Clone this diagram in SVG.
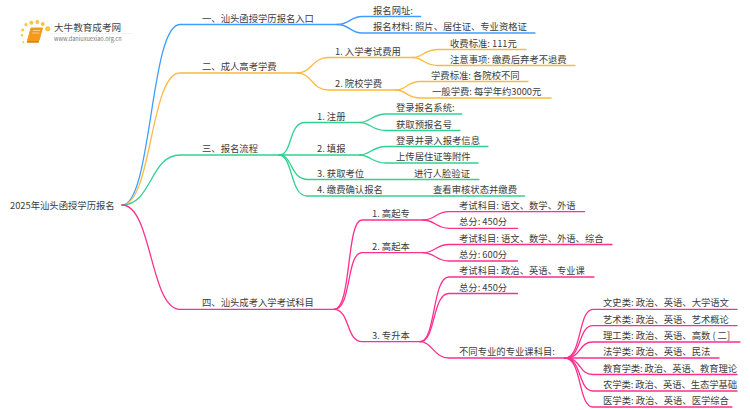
<svg xmlns="http://www.w3.org/2000/svg" width="750" height="410" viewBox="0 0 750 410">
<style>
text{font-family:"Noto Sans CJK SC","Noto Sans",sans-serif;font-size:9.33px;fill:#3c3c3c}
.c path{fill:none;stroke-width:1.3;stroke-linecap:round}
.b path{stroke:#3d9eff}.o path{stroke:#ffb940}.g path{stroke:#33d191}.p path{stroke:#ff2f8e}
</style>
<rect width="750" height="410" fill="#fff"/>
<g id="connectors" class="c">
<g class="b">
<path d="M122,205C152,205 150,24.5 180,24.5H337"/>
<path d="M337,24.5C350,24.5 350,16.5 362,16.5H420.7"/>
<path d="M337,24.5C350,24.5 350,33 362,33H535"/>
</g>
<g class="o">
<path d="M122,205C152,205 150,73 180,73H297"/>
<path d="M297,73C312,73 312,57.5 328,57.5H413"/>
<path d="M297,73C312,73 312,90 328,90H396"/>
<path d="M413,57.5C423,57.5 424,49.5 438,49.5H526"/>
<path d="M413,57.5C423,57.5 424,65.5 438,65.5H575"/>
<path d="M396,90C406,90 407,81.5 420,81.5H528"/>
<path d="M396,90C406,90 407,98 420,98H551"/>
</g>
<g class="g">
<path d="M122,205C152,205 150,155 180,155H279"/>
<path d="M279,155C293,155 288,122.5 305,122.5H360"/>
<path d="M279,155H360"/>
<path d="M279,155C293,155 290,179.5 308,179.5H479"/>
<path d="M279,155C293,155 290,196 307,196H524.6"/>
<path d="M360,122.5C370,122.5 372,114 386,114H461.7"/>
<path d="M360,122.5C370,122.5 372,130.5 386,130.5H460"/>
<path d="M360,155C370,155 372,146.5 386,146.5H488"/>
<path d="M360,155C370,155 372,163 386,163H478"/>
</g>
<g class="p">
<path d="M122,205C152,205 150,309.3 180,309.3H334"/>
<path d="M334,309.3C352,309.3 346,220 362,220H423"/>
<path d="M334,309.3C352,309.3 346,252.7 362,252.7H423"/>
<path d="M334,309.3C350,309.3 346,341.7 362,341.7H420"/>
<path d="M423,220C435,220 436,211.7 449,211.7H584.5"/>
<path d="M423,220C435,220 436,228.3 449,228.3H517.5"/>
<path d="M423,252.7C435,252.7 436,244.5 449,244.5H612"/>
<path d="M423,252.7C435,252.7 436,261 449,261H517.5"/>
<path d="M420,341.7C436,341.7 432,277 449,277H594"/>
<path d="M420,341.7C436,341.7 432,293.5 449,293.5H517.5"/>
<path d="M420,341.7C432,341.7 434,358 449,358H565"/>
<path d="M565,358C582,358 578,309.4 593,309.4H737"/>
<path d="M565,358C582,358 578,325.7 593,325.7H737"/>
<path d="M565,358C582,358 578,342 593,342H740"/>
<path d="M565,358H719"/>
<path d="M565,358C582,358 578,374.5 593,374.5H737"/>
<path d="M565,358C582,358 578,391 593,391H737"/>
<path d="M565,358C582,358 578,407 593,407H732"/>
</g>
</g>
<g id="logo">
<g fill="#f9c440">
<circle cx="47.7" cy="28.7" r="2.5"/><circle cx="42.7" cy="24" r="2"/><circle cx="37.3" cy="22" r="2"/><circle cx="31.3" cy="22.7" r="2"/><circle cx="26" cy="24.7" r="1.6"/><circle cx="22.7" cy="30" r="1.4"/><circle cx="22" cy="35.3" r="1.2"/><circle cx="23.3" cy="42.3" r="1"/>
</g>
<path d="M31,28H42.5L39,40.5H27.5Z" fill="#f59a1d" stroke="#f59a1d" stroke-linejoin="round"/>
<path d="M27,41H39L38.5,42.7H28Q26,42.7 27,41Z" fill="#e07f12"/>
<path d="M33,30.5H40M32.3,33H39.3" stroke="#ffe3b0" stroke-width=".7" fill="none"/>
<text x="54" y="31" style="font-size:9.6px;fill:#444">大牛教育成考网</text>
<path d="M50,33.5H133" stroke="#eee" stroke-width=".7"/>
<text x="54" y="41" style="font-size:5.6px;fill:#777">www.daniuxuexiao.org.cn</text>
</g>
<g id="root"><text x="10" y="208.5">2025年汕头函授学历报名</text></g>
<g id="n1"><text x="202" y="21.5">一、汕头函授学历报名入口</text></g>
<g id="n1-1"><text x="373" y="13.5">报名网址:</text></g>
<g id="n1-2"><text x="373" y="30">报名材料: 照片、居住证、专业资格证</text></g>
<g id="n2"><text x="202" y="70">二、成人高考学费</text></g>
<g id="n2-1"><text x="335" y="54.5">1. 入学考试费用</text></g>
<g id="n2-1-1"><text x="450" y="46.5">收费标准: 111元</text></g>
<g id="n2-1-2"><text x="450" y="62.5">注意事项: 缴费后弃考不退费</text></g>
<g id="n2-2"><text x="335" y="87">2. 院校学费</text></g>
<g id="n2-2-1"><text x="431" y="78.5">学费标准: 各院校不同</text></g>
<g id="n2-2-2"><text x="432" y="95">一般学费: 每学年约3000元</text></g>
<g id="n3"><text x="202" y="152">三、报名流程</text></g>
<g id="n3-1"><text x="317" y="119.5">1. 注册</text></g>
<g id="n3-1-1"><text x="396" y="111">登录报名系统:</text></g>
<g id="n3-1-2"><text x="396" y="127.5">获取预报名号</text></g>
<g id="n3-2"><text x="317" y="152">2. 填报</text></g>
<g id="n3-2-1"><text x="396" y="143.5">登录并录入报考信息</text></g>
<g id="n3-2-2"><text x="396" y="160">上传居住证等附件</text></g>
<g id="n3-3"><text x="317" y="176.5">3. 获取考位</text></g>
<g id="n3-3-1"><text x="414" y="176.5">进行人脸验证</text></g>
<g id="n3-4"><text x="317" y="193">4. 缴费确认报名</text></g>
<g id="n3-4-1"><text x="433" y="193">查看审核状态并缴费</text></g>
<g id="n4"><text x="202" y="306.3">四、汕头成考入学考试科目</text></g>
<g id="n4-1"><text x="372" y="217">1. 高起专</text></g>
<g id="n4-1-1"><text x="459" y="208.7">考试科目: 语文、数学、外语</text></g>
<g id="n4-1-2"><text x="459" y="225.3">总分: 450分</text></g>
<g id="n4-2"><text x="372" y="249.7">2. 高起本</text></g>
<g id="n4-2-1"><text x="459" y="241.5">考试科目: 语文、数学、外语、综合</text></g>
<g id="n4-2-2"><text x="459" y="258">总分: 600分</text></g>
<g id="n4-3"><text x="372" y="338.7">3. 专升本</text></g>
<g id="n4-3-1"><text x="459" y="274">考试科目: 政治、英语、专业课</text></g>
<g id="n4-3-2"><text x="459" y="290.5">总分: 450分</text></g>
<g id="n4-3-3"><text x="459" y="355">不同专业的专业课科目:</text></g>
<g id="l1"><text x="603" y="306.4">文史类: 政治、英语、大学语文</text></g>
<g id="l2"><text x="603" y="322.7">艺术类: 政治、英语、艺术概论</text></g>
<g id="l3"><text x="603" y="339">理工类: 政治、英语、高数 ( 二]</text></g>
<g id="l4"><text x="603" y="355">法学类: 政治、英语、民法</text></g>
<g id="l5"><text x="603" y="371.5" textLength="134">教育学类: 政治、英语、教育理论</text></g>
<g id="l6"><text x="603" y="388" textLength="134">农学类: 政治、英语、生态学基础</text></g>
<g id="l7"><text x="603" y="404">医学类: 政治、英语、医学综合</text></g>
</svg>
